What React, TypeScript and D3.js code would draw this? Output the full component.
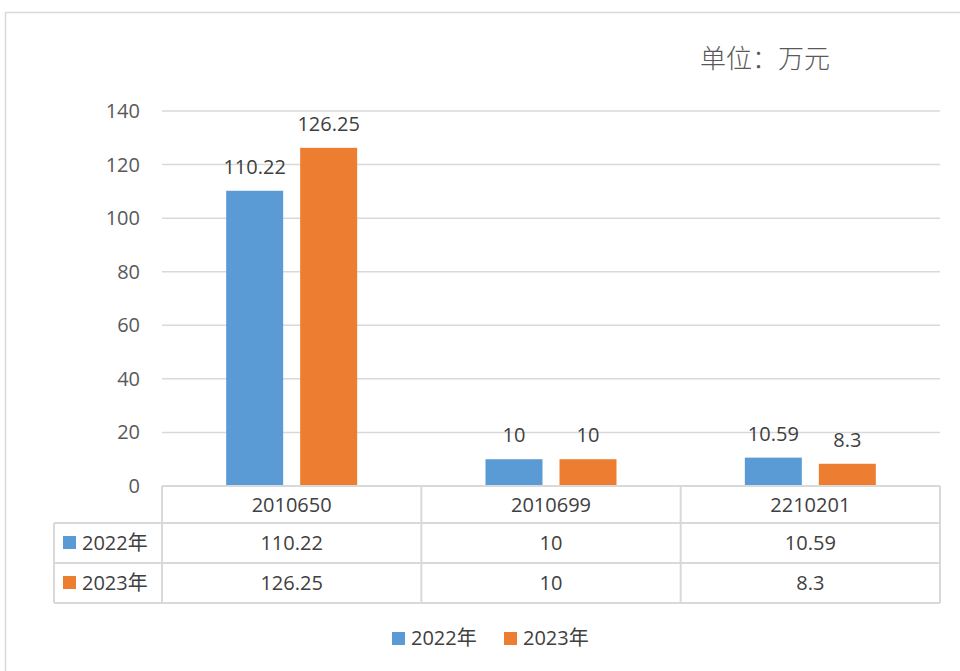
import React, { useEffect, useRef } from "react";
import * as d3 from "d3";

const categories = ["2010650", "2010699", "2210201"];
const seriesNames = ["2022年", "2023年"];
const values2022 = [110.22, 10, 10.59];
const values2023 = [126.25, 10, 8.3];
const yTicks = [0, 20, 40, 60, 80, 100, 120, 140];

const COLORS = ["#5B9BD5", "#ED7D31"];
const FONT = "'Open Sans', 'Noto Sans CJK SC', sans-serif";
const FS = "20px";

export default function App() {
  const svgRef = useRef<SVGSVGElement>(null);

  useEffect(() => {
    if (!svgRef.current) return;
    const svg = d3.select(svgRef.current);
    svg.selectAll("*").remove();

    const W = 960;
    const H = 671;
    const plot = { left: 162, right: 940, top: 111, bottom: 486 };
    const series = [values2022, values2023];

    // outer chart border
    svg
      .append("rect")
      .attr("x", 5.5)
      .attr("y", 12.5)
      .attr("width", W)
      .attr("height", H)
      .attr("fill", "#fff")
      .attr("stroke", "#D9D9D9")
      .attr("stroke-width", 1.5);

    // unit label
    svg
      .append("text")
      .attr("x", 700)
      .attr("y", 68)
      .attr("font-family", "'Noto Sans CJK SC', sans-serif")
      .attr("font-weight", 300)
      .attr("font-size", "26px")
      .attr("fill", "#595959")
      .text("单位：万元");

    const x = d3
      .scaleBand<string>()
      .domain(categories)
      .range([plot.left, plot.right]);

    const y = d3
      .scaleLinear()
      .domain([0, 140])
      .range([plot.bottom, plot.top]);

    // gridlines
    svg
      .append("g")
      .selectAll("line")
      .data(yTicks.slice(1))
      .enter()
      .append("line")
      .attr("x1", plot.left)
      .attr("x2", plot.right)
      .attr("y1", (d) => y(d))
      .attr("y2", (d) => y(d))
      .attr("stroke", "#D9D9D9")
      .attr("stroke-width", 1.5);

    // y tick labels
    svg
      .append("g")
      .selectAll("text")
      .data(yTicks)
      .enter()
      .append("text")
      .attr("x", 140)
      .attr("y", (d) => y(d))
      .attr("dy", "0.35em")
      .attr("text-anchor", "end")
      .attr("font-family", FONT)
      .attr("font-size", FS)
      .attr("fill", "#595959")
      .text((d) => d);

    // bars
    const barW = 57;
    const gap = 17;
    series.forEach((vals, si) => {
      const g = svg.append("g");
      const offset = si === 0 ? -(gap / 2 + barW) : gap / 2;
      g.selectAll("rect")
        .data(vals)
        .enter()
        .append("rect")
        .attr("x", (_, i) => x(categories[i])! + x.bandwidth() / 2 + offset)
        .attr("y", (d) => y(d))
        .attr("width", barW)
        .attr("height", (d) => plot.bottom - y(d))
        .attr("fill", COLORS[si]);

      g.selectAll("text")
        .data(vals)
        .enter()
        .append("text")
        .attr("x", (_, i) => x(categories[i])! + x.bandwidth() / 2 + offset + barW / 2)
        .attr("y", (d) => y(d) - 17)
        .attr("text-anchor", "middle")
        .attr("font-family", FONT)
        .attr("font-size", FS)
        .attr("fill", "#404040")
        .text((d) => d);
    });

    // data table
    const rows = [plot.bottom, 523, 563, 603];
    const tableLeft = 54;
    const border = "#D9D9D9";
    const tg = svg.append("g");

    tg.append("line")
      .attr("x1", plot.left)
      .attr("x2", plot.right)
      .attr("y1", rows[0])
      .attr("y2", rows[0])
      .attr("stroke", border)
      .attr("stroke-width", 2);
    rows.slice(1).forEach((ry) => {
      tg.append("line")
        .attr("x1", tableLeft)
        .attr("x2", plot.right)
        .attr("y1", ry)
        .attr("y2", ry)
        .attr("stroke", border)
        .attr("stroke-width", 2);
    });
    tg.append("line")
      .attr("x1", tableLeft)
      .attr("x2", tableLeft)
      .attr("y1", rows[1])
      .attr("y2", rows[3])
      .attr("stroke", border)
      .attr("stroke-width", 2);
    [...categories.map((c) => x(c)!), plot.right].forEach((vx) => {
      tg.append("line")
        .attr("x1", vx)
        .attr("x2", vx)
        .attr("y1", rows[0])
        .attr("y2", rows[3])
        .attr("stroke", border)
        .attr("stroke-width", 2);
    });

    // header row: categories
    tg.selectAll(".cat")
      .data(categories)
      .enter()
      .append("text")
      .attr("class", "cat")
      .attr("x", (d) => x(d)! + x.bandwidth() / 2)
      .attr("y", (rows[0] + rows[1]) / 2)
      .attr("dy", "0.35em")
      .attr("text-anchor", "middle")
      .attr("font-family", FONT)
      .attr("font-size", FS)
      .attr("fill", "#404040")
      .text((d) => d);

    series.forEach((vals, si) => {
      const cy = (rows[si + 1] + rows[si + 2]) / 2;
      tg.append("rect")
        .attr("x", 63)
        .attr("y", cy - 7)
        .attr("width", 13)
        .attr("height", 13)
        .attr("fill", COLORS[si]);
      tg.append("text")
        .attr("x", 82)
        .attr("y", cy)
        .attr("dy", "0.35em")
        .attr("font-family", FONT)
        .attr("font-size", FS)
        .attr("fill", "#404040")
        .text(seriesNames[si]);
      tg.selectAll(`.v${si}`)
        .data(vals)
        .enter()
        .append("text")
        .attr("class", `v${si}`)
        .attr("x", (_, i) => x(categories[i])! + x.bandwidth() / 2)
        .attr("y", cy)
        .attr("dy", "0.35em")
        .attr("text-anchor", "middle")
        .attr("font-family", FONT)
        .attr("font-size", FS)
        .attr("fill", "#404040")
        .text((d) => d);
    });

    // legend
    const legendX = [392, 504];
    seriesNames.forEach((name, si) => {
      svg
        .append("rect")
        .attr("x", legendX[si])
        .attr("y", 632)
        .attr("width", 13)
        .attr("height", 13)
        .attr("fill", COLORS[si]);
      svg
        .append("text")
        .attr("x", legendX[si] + 19)
        .attr("y", 638)
        .attr("dy", "0.35em")
        .attr("font-family", FONT)
        .attr("font-size", FS)
        .attr("fill", "#404040")
        .text(name);
    });
  }, []);

  return (
    <div style={{ position: "absolute", left: 0, top: 0, width: 960, height: 671, overflow: "hidden" }}>
      <svg ref={svgRef} width={960} height={671} style={{ display: "block" }} />
    </div>
  );
}
